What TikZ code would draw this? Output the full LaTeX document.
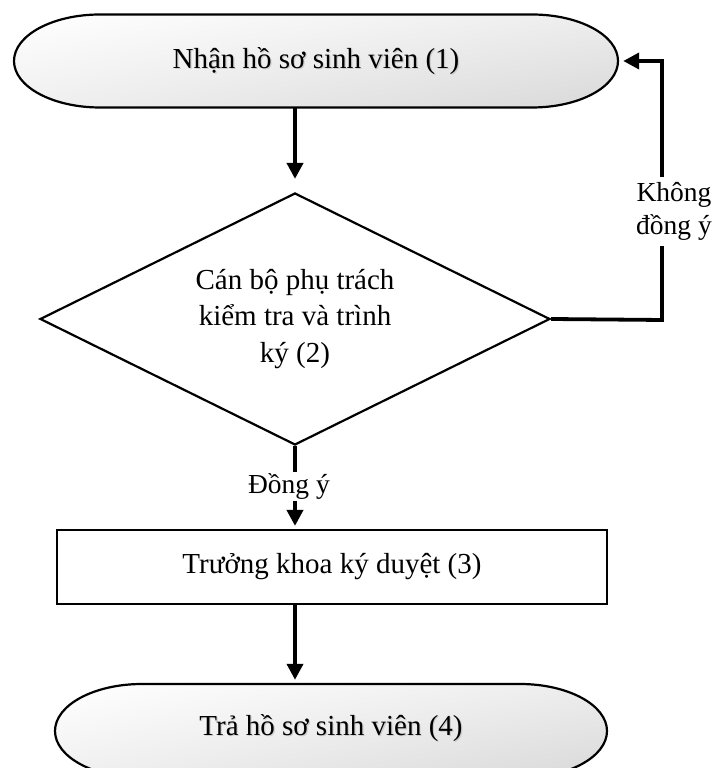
\documentclass[tikz,border=0pt]{standalone}
\usepackage{fontspec}
\setmainfont{Liberation Serif}
\usetikzlibrary{arrows.meta,shapes.geometric,calc,shadings}
\begin{document}
\begin{tikzpicture}[x=1pt,y=1pt,
  flow/.style={line width=3.8pt,-{Triangle[length=16pt,width=16pt]}},
  outline/.style={line width=2.2pt},
  txt/.style={font=\fontsize{29}{36.5}\selectfont,inner sep=0pt},
  lbl/.style={font=\fontsize{27.5}{33}\selectfont,fill=white,align=center,
    inner xsep=2pt,inner ysep=5pt},
  termfill/.style={upper left=white,upper right=gray!14,
    lower left=gray!12,lower right=gray!30},
  shadowtxt/.style={txt,text=black!35,opacity=0.45}
]
\useasboundingbox (0,0) rectangle (713,768);

% start terminal: flat top and bottom with elliptic caps
\shadedraw[termfill,outline]
  (100,753.5) -- (532,753.5)
  arc[start angle=90,end angle=-90,x radius=86,y radius=46.5]
  -- (100,660.5)
  arc[start angle=270,end angle=90,x radius=86,y radius=46.5] -- cycle;
\node[shadowtxt] (t1s) at (317.2,705.8) {Nhận hồ sơ sinh viên (1)};
\node[txt,minimum width=604pt,minimum height=93pt] (t1) at (316,707)
  {Nhận hồ sơ sinh viên (1)};

% end terminal, partly below the page edge
\shadedraw[termfill,outline]
  (142,84) -- (520,84)
  arc[start angle=90,end angle=-90,x radius=87,y radius=47]
  -- (142,-10)
  arc[start angle=270,end angle=90,x radius=87,y radius=47] -- cycle;
\node[shadowtxt] (t4s) at (332.2,38.8) {Trả hồ sơ sinh viên (4)};
\node[txt,minimum width=552pt,minimum height=94pt] (t4) at (331,40)
  {Trả hồ sơ sinh viên (4)};

% decision
\node[diamond,aspect=2,draw,outline,txt,align=center,minimum width=510pt,
  minimum height=252pt] (d) at (295,449)
  {Cán bộ phụ trách\\kiểm tra và trình\\ký (2)};

% approval step
\node[draw,outline,txt,minimum width=550pt,minimum height=74pt] (b)
  at (332,201) {Trưởng khoa ký duyệt (3)};

% connectors
\coordinate (turn) at (662,448);
\draw[flow,shorten >=13pt] (t1.south -| d.north) -- (d.north);
\draw[flow,shorten >=5pt] (d.east) -- (turn) |- (t1.east);
\draw[flow,shorten >=3pt] (d.south) -- (d.south |- b.north);
\draw[flow,shorten >=1pt] (b.south -| d.south) -- (d.south |- t4.north);

% branch labels
\node[lbl] (no) at (674,556.5) {Không\\đồng ý};
\node[lbl,inner ysep=2pt] (yes) at (289,281.5) {Đồng ý};
\end{tikzpicture}
\end{document}
